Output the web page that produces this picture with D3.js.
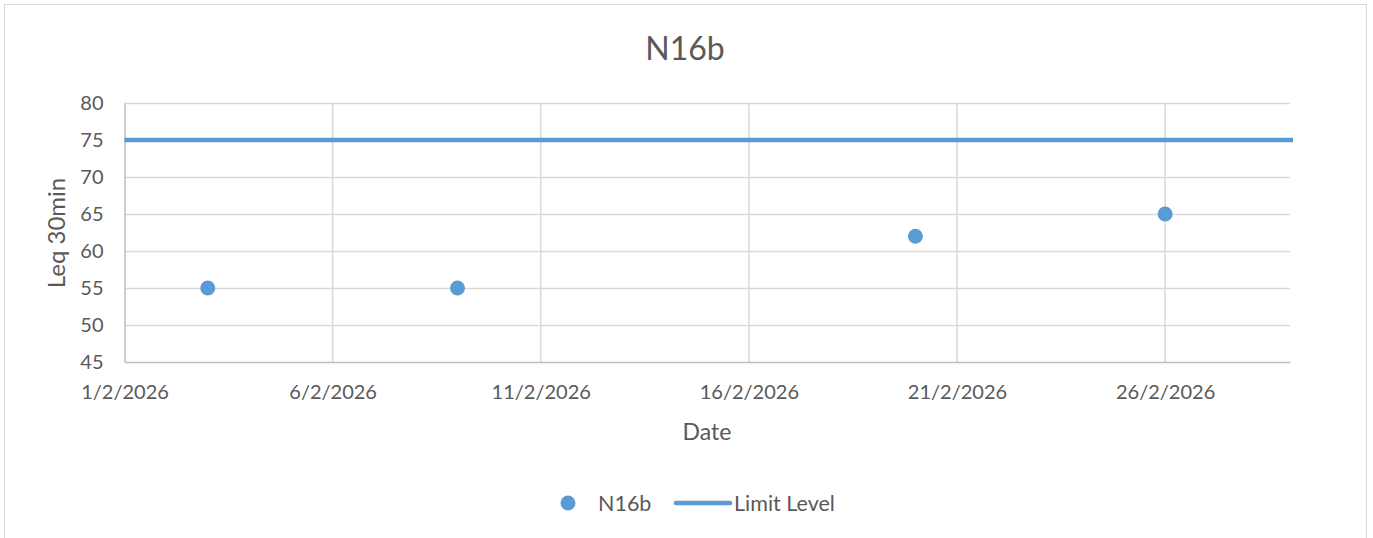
<!DOCTYPE html>
<html>
<head>
<meta charset="utf-8">
<script src="https://cdn.jsdelivr.net/npm/d3@7"></script>
<style>
  body { margin: 0; background: #fff; }
  svg text { font-family: Lato, "Open Sans", sans-serif; fill: #595959; }
</style>
</head>
<body>
<div id="chart"></div>
<script>
// data
const seriesName = "N16b";
const limitName = "Limit Level";
const sampleDates = ["2026-02-03", "2026-02-09", "2026-02-20", "2026-02-26"];
const sampleValues = [55, 55, 62, 65];
const limitValue = 75;
const xDomain = ["2026-02-01", "2026-03-01"];
const xTickDates = ["2026-02-01", "2026-02-06", "2026-02-11", "2026-02-16", "2026-02-21", "2026-02-26"];
const yTicks = [45, 50, 55, 60, 65, 70, 75, 80];

const width = 1373, height = 538;
const margin = { top: 103, right: 83, bottom: 176, left: 124.5 };
const color = "#5b9bd5";

const parse = d3.utcParse("%Y-%m-%d");
const fmt = d3.utcFormat("%-d/%-m/%Y");

const svg = d3.select("#chart").append("svg")
    .attr("width", width)
    .attr("height", height);

// outer chart border
svg.append("rect")
    .attr("x", 4.5).attr("y", 4.5)
    .attr("width", 1362).attr("height", 560)
    .attr("fill", "none")
    .attr("stroke", "#d9d9d9");

const x = d3.scaleUtc()
    .domain(xDomain.map(parse))
    .range([margin.left, width - margin.right]);

const y = d3.scaleLinear()
    .domain([45, 80])
    .range([height - margin.bottom, margin.top]);

// gridlines
const grid = svg.append("g");
grid.selectAll("line.h")
    .data(yTicks.slice(1))
    .join("line")
    .attr("x1", x.range()[0]).attr("x2", x.range()[1])
    .attr("y1", d => Math.round(y(d)) + 0.5).attr("y2", d => Math.round(y(d)) + 0.5)
    .attr("stroke", "#d9d9d9").attr("stroke-width", 1.5);
grid.selectAll("line.v")
    .data(xTickDates.slice(1).map(parse))
    .join("line")
    .attr("x1", d => x(d)).attr("x2", d => x(d))
    .attr("y1", y(80)).attr("y2", y(45))
    .attr("stroke", "#d9d9d9").attr("stroke-width", 1.5);

// axes
const xAxis = svg.append("g")
    .attr("transform", `translate(0,${y(45)})`)
    .call(d3.axisBottom(x).tickValues(xTickDates.map(parse)).tickFormat(fmt).tickSize(0).tickPadding(23));
xAxis.select(".domain").attr("stroke", "#bfbfbf").attr("stroke-width", 1.5);
xAxis.selectAll("text").style("font-size", "20px");

const yAxis = svg.append("g")
    .attr("transform", `translate(${x.range()[0]},0)`)
    .call(d3.axisLeft(y).tickValues(yTicks).tickSize(0).tickPadding(21));
yAxis.select(".domain").attr("stroke", "#bfbfbf").attr("stroke-width", 1.5);
yAxis.selectAll("text").style("font-size", "20px");

// limit line
svg.append("line")
    .attr("x1", x.range()[0]).attr("x2", x.range()[1] + 3)
    .attr("y1", y(limitValue)).attr("y2", y(limitValue))
    .attr("stroke", color).attr("stroke-width", 4.5);

// points
svg.append("g")
    .selectAll("circle")
    .data(sampleDates.map((d, i) => ({ date: parse(d), value: sampleValues[i] })))
    .join("circle")
    .attr("cx", d => x(d.date))
    .attr("cy", d => y(d.value))
    .attr("r", 7.5)
    .attr("fill", color);

// title
svg.append("text")
    .attr("x", 685).attr("y", 60)
    .attr("text-anchor", "middle")
    .style("font-size", "32px")
    .text(seriesName);

// axis titles
svg.append("text")
    .attr("x", 707).attr("y", 440)
    .attr("text-anchor", "middle")
    .style("font-size", "23px")
    .text("Date");

svg.append("text")
    .attr("transform", `translate(65,233) rotate(-90)`)
    .attr("text-anchor", "middle")
    .style("font-size", "24px")
    .text("Leq 30min");

// legend
const legend = svg.append("g");
legend.append("circle")
    .attr("cx", 568).attr("cy", 503).attr("r", 7.5)
    .attr("fill", color);
legend.append("text")
    .attr("x", 598).attr("y", 511)
    .style("font-size", "21.5px")
    .text(seriesName);
legend.append("line")
    .attr("x1", 676).attr("x2", 730)
    .attr("y1", 503).attr("y2", 503)
    .attr("stroke", color).attr("stroke-width", 4.5)
    .attr("stroke-linecap", "round");
legend.append("text")
    .attr("x", 734).attr("y", 511)
    .style("font-size", "21.5px")
    .text(limitName);
</script>
</body>
</html>
